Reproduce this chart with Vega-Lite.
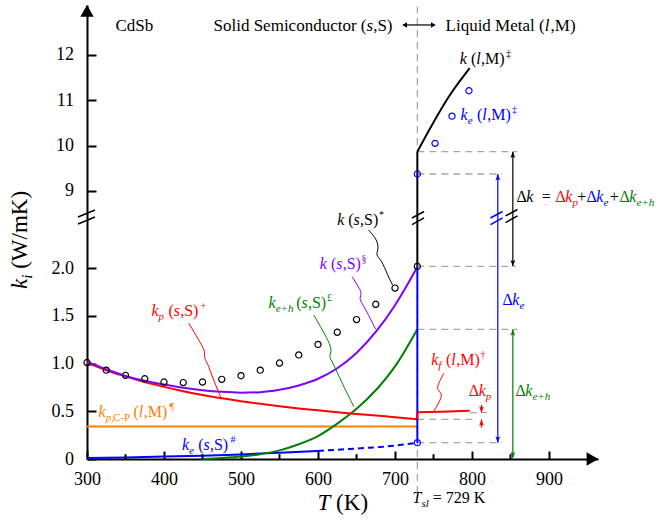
{
"$schema": "https://vega.github.io/schema/vega-lite/v6.json",
"width": 511, "height": 454,
"autosize": {"type": "none"},
"padding": {"left": 87, "top": 5, "right": 62, "bottom": 63},
"background": "white",
"config": {"view": {"stroke": null}, "font": "'Liberation Serif', 'Times New Roman', Times, serif"},
"datasets": {
"vguide": [{"T": 729, "k": -0.356, "k2": 13.06}],
"hguide": [
{"T": 729, "T2": 858.7, "k": 9.867}, {"T": 729, "T2": 839.2, "k": 9.375},
{"T": 729, "T2": 856.5, "k": 2.018}, {"T": 729, "T2": 858.7, "k": 1.358},
{"T": 729, "T2": 806.8, "k": 0.415}, {"T": 797, "T2": 819.7, "k": 0.485},
{"T": 729, "T2": 839.2, "k": 0.171}],
"curves": [
{"s":"kpcp","id":"pcp","T":300,"k":0.34},{"s":"kpcp","id":"pcp","T":729,"k":0.34},
{"s":"ke","id":"ke","T":300,"k":0.01},{"s":"ke","id":"ke","T":350,"k":0.017},{"s":"ke","id":"ke","T":400,"k":0.025},{"s":"ke","id":"ke","T":450,"k":0.035},{"s":"ke","id":"ke","T":500,"k":0.048},{"s":"ke","id":"ke","T":550,"k":0.065},{"s":"ke","id":"ke","T":600,"k":0.085},
{"s":"keh","id":"keh","T":450,"k":0.0},{"s":"keh","id":"keh","T":475,"k":0.01},{"s":"keh","id":"keh","T":500,"k":0.025},{"s":"keh","id":"keh","T":525,"k":0.05},{"s":"keh","id":"keh","T":550,"k":0.09},{"s":"keh","id":"keh","T":575,"k":0.155},{"s":"keh","id":"keh","T":600,"k":0.24},{"s":"keh","id":"keh","T":625,"k":0.37},{"s":"keh","id":"keh","T":650,"k":0.525},{"s":"keh","id":"keh","T":675,"k":0.72},{"s":"keh","id":"keh","T":700,"k":0.97},{"s":"keh","id":"keh","T":729,"k":1.36},
{"s":"kp","id":"kp","T":300,"k":1.01},{"s":"kp","id":"kp","T":325,"k":0.93},{"s":"kp","id":"kp","T":350,"k":0.865},{"s":"kp","id":"kp","T":375,"k":0.805},{"s":"kp","id":"kp","T":400,"k":0.755},{"s":"kp","id":"kp","T":425,"k":0.71},{"s":"kp","id":"kp","T":450,"k":0.67},{"s":"kp","id":"kp","T":475,"k":0.635},{"s":"kp","id":"kp","T":500,"k":0.605},{"s":"kp","id":"kp","T":525,"k":0.578},{"s":"kp","id":"kp","T":550,"k":0.553},{"s":"kp","id":"kp","T":575,"k":0.53},{"s":"kp","id":"kp","T":600,"k":0.51},{"s":"kp","id":"kp","T":625,"k":0.49},{"s":"kp","id":"kp","T":650,"k":0.472},{"s":"kp","id":"kp","T":675,"k":0.455},{"s":"kp","id":"kp","T":700,"k":0.438},{"s":"kp","id":"kp","T":729,"k":0.415},
{"s":"kp","id":"kf","T":729,"k":0.49},{"s":"kp","id":"kf","T":760,"k":0.495},{"s":"kp","id":"kf","T":797,"k":0.505},
{"s":"ksum","id":"sum","T":300,"k":1.02},{"s":"ksum","id":"sum","T":325,"k":0.94},{"s":"ksum","id":"sum","T":350,"k":0.87},{"s":"ksum","id":"sum","T":375,"k":0.82},{"s":"ksum","id":"sum","T":400,"k":0.78},{"s":"ksum","id":"sum","T":425,"k":0.745},{"s":"ksum","id":"sum","T":450,"k":0.72},{"s":"ksum","id":"sum","T":475,"k":0.703},{"s":"ksum","id":"sum","T":500,"k":0.695},{"s":"ksum","id":"sum","T":525,"k":0.70},{"s":"ksum","id":"sum","T":550,"k":0.725},{"s":"ksum","id":"sum","T":575,"k":0.77},{"s":"ksum","id":"sum","T":600,"k":0.84},{"s":"ksum","id":"sum","T":625,"k":0.95},{"s":"ksum","id":"sum","T":650,"k":1.11},{"s":"ksum","id":"sum","T":675,"k":1.33},{"s":"ksum","id":"sum","T":700,"k":1.61},{"s":"ksum","id":"sum","T":729,"k":2.01},
{"s":"k","id":"kl","T":729,"k":9.867},{"s":"k","id":"kl","T":773,"k":11.16},{"s":"k","id":"kl","T":797,"k":11.71}],
"dash": [{"s":"ke","T":600,"k":0.085},{"s":"ke","T":650,"k":0.11},{"s":"ke","T":700,"k":0.14},{"s":"ke","T":729,"k":0.171}],
"verts": [{"s":"ke","T":729,"k":0.171,"k2":2.018},{"s":"k","T":729,"k":2.018,"k2":9.867},{"s":"kp","T":729,"k":0.415,"k2":0.49}],
"mticks": [{"T":350,"k":0,"k2":0.05},{"T":450,"k":0,"k2":0.05},{"T":550,"k":0,"k2":0.05},{"T":650,"k":0,"k2":0.05},{"T":750,"k":0,"k2":0.05},{"T":850,"k":0,"k2":0.05}],
"arrows": [{"s":"k","T":853,"k":2.018,"k2":9.867},{"s":"ke","T":833.5,"k":0.171,"k2":9.375},{"s":"keh","T":853,"k":0.01,"k2":1.358},{"s":"kp","T":812.3,"k":0.485,"k2":0.565},{"s":"kp","T":812.3,"k":0.33,"k2":0.415}],
"harrow": [{"T":711,"T2":751,"k":12.66}],
"circles": [
{"s":"k","T":300,"k":1.01},{"s":"k","T":325,"k":0.93},{"s":"k","T":350,"k":0.876},{"s":"k","T":375,"k":0.84},{"s":"k","T":400,"k":0.806},{"s":"k","T":425,"k":0.80},{"s":"k","T":450,"k":0.806},{"s":"k","T":475,"k":0.834},{"s":"k","T":500,"k":0.872},{"s":"k","T":525,"k":0.93},{"s":"k","T":550,"k":1.005},{"s":"k","T":575,"k":1.09},{"s":"k","T":600,"k":1.20},{"s":"k","T":625,"k":1.327},{"s":"k","T":650,"k":1.46},{"s":"k","T":675,"k":1.62},{"s":"k","T":700,"k":1.79},{"s":"k","T":729,"k":2.018},
{"s":"ke","T":729,"k":0.171},{"s":"ke","T":729,"k":9.375},{"s":"ke","T":752,"k":10.05},{"s":"ke","T":774,"k":10.65},{"s":"ke","T":796,"k":11.21}],
"leaders": [
{"s":"k","id":"Lk","o":1,"T":665.6,"k":2.398},{"s":"k","id":"Lk","o":2,"T":677.3,"k":2.293},{"s":"k","id":"Lk","o":3,"T":678.6,"k":2.188},{"s":"k","id":"Lk","o":4,"T":674.7,"k":2.136},{"s":"k","id":"Lk","o":5,"T":682.5,"k":2.084},{"s":"k","id":"Lk","o":6,"T":690.3,"k":1.927},{"s":"k","id":"Lk","o":7,"T":696.8,"k":1.822},
{"s":"ksum","id":"Ls","o":1,"T":644.4,"k":1.909},{"s":"ksum","id":"Ls","o":2,"T":652.6,"k":1.801},{"s":"ksum","id":"Ls","o":3,"T":657.4,"k":1.735},{"s":"ksum","id":"Ls","o":4,"T":653.2,"k":1.683},{"s":"ksum","id":"Ls","o":5,"T":657.4,"k":1.630},{"s":"ksum","id":"Ls","o":6,"T":665.6,"k":1.508},{"s":"ksum","id":"Ls","o":7,"T":674.7,"k":1.361},
{"s":"keh","id":"Lg","o":1,"T":594.5,"k":1.508},{"s":"keh","id":"Lg","o":2,"T":605.8,"k":1.351},{"s":"keh","id":"Lg","o":3,"T":616.2,"k":1.194},{"s":"keh","id":"Lg","o":4,"T":617.5,"k":1.120},{"s":"keh","id":"Lg","o":5,"T":614,"k":1.071},{"s":"keh","id":"Lg","o":6,"T":618.4,"k":1.026},{"s":"keh","id":"Lg","o":7,"T":629.2,"k":0.827},{"s":"keh","id":"Lg","o":8,"T":646.5,"k":0.548},
{"s":"kp","id":"Lr","o":1,"T":432.2,"k":1.421},{"s":"kp","id":"Lr","o":2,"T":445.2,"k":1.246},{"s":"kp","id":"Lr","o":3,"T":453.9,"k":1.124},{"s":"kp","id":"Lr","o":4,"T":451.7,"k":1.058},{"s":"kp","id":"Lr","o":5,"T":456.1,"k":1.016},{"s":"kp","id":"Lr","o":6,"T":464.3,"k":0.827},{"s":"kp","id":"Lr","o":7,"T":473.4,"k":0.652},
{"s":"kp","id":"Lf","o":1,"T":763.4,"k":0.897},{"s":"kp","id":"Lf","o":2,"T":755.2,"k":0.775},{"s":"kp","id":"Lf","o":3,"T":754.8,"k":0.723},{"s":"kp","id":"Lf","o":4,"T":761.3,"k":0.688},{"s":"kp","id":"Lf","o":5,"T":759.1,"k":0.618},{"s":"kp","id":"Lf","o":6,"T":750.4,"k":0.503}],
"t16u": [
{"t":"(","T":798.6,"k":11.795,"s":"k"},{"t":",M)","T":811.8,"k":11.795,"s":"k"},
{"t":"(","T":806.5,"k":10.566,"s":"ke"},{"t":",M)","T":819.7,"k":10.566,"s":"ke"},
{"t":"Δ","T":857.8,"k":8.764,"s":"k"},{"t":"=","T":890.5,"k":8.764,"s":"k"},{"t":"Δ","T":908.4,"k":8.764,"s":"kp"},{"t":"+","T":936.5,"k":8.764,"s":"k"},{"t":"Δ","T":948.7,"k":8.764,"s":"ke"},{"t":"+","T":979,"k":8.764,"s":"k"},{"t":"Δ","T":991.5,"k":8.764,"s":"keh"},
{"t":"(","T":639.4,"k":2.45,"s":"k"},{"t":",S)","T":654.5,"k":2.45,"s":"k"},
{"t":"(","T":616.8,"k":1.986,"s":"ksum"},{"t":",S)","T":632,"k":1.986,"s":"ksum"},
{"t":"(","T":571.7,"k":1.578,"s":"keh"},{"t":",S)","T":586.9,"k":1.578,"s":"keh"},
{"t":"(","T":405.8,"k":1.497,"s":"kp"},{"t":",S)","T":421,"k":1.497,"s":"kp"},
{"t":"Δ","T":839.6,"k":1.613,"s":"ke"},
{"t":"(","T":766.2,"k":0.984,"s":"kp"},{"t":",M)","T":779.5,"k":0.984,"s":"kp"},
{"t":"Δ","T":795.8,"k":0.66,"s":"kp"},
{"t":"Δ","T":856.5,"k":0.663,"s":"keh"},
{"t":"(","T":360.4,"k":0.443,"s":"kpcp"},{"t":",M)","T":373.6,"k":0.443,"s":"kpcp"},
{"t":"(","T":444.6,"k":0.094,"s":"ke"},{"t":",S)","T":459.7,"k":0.094,"s":"ke"},
{"t":"= 729 K","T":749,"k":-0.461,"s":"k"}],
"t16i": [
{"t":"k","T":784.2,"k":11.795,"s":"k"},{"t":"l","T":805.5,"k":11.795,"s":"k"},
{"t":"k","T":785.1,"k":10.566,"s":"ke"},{"t":"l","T":813.4,"k":10.566,"s":"ke"},
{"t":"k","T":870.5,"k":8.764,"s":"k"},{"t":"k","T":921.2,"k":8.764,"s":"kp"},{"t":"k","T":961.4,"k":8.764,"s":"ke"},{"t":"k","T":1004.2,"k":8.764,"s":"keh"},
{"t":"k","T":624.9,"k":2.45,"s":"k"},{"t":"s","T":646.2,"k":2.45,"s":"k"},
{"t":"k","T":602.3,"k":1.986,"s":"ksum"},{"t":"s","T":623.6,"k":1.986,"s":"ksum"},
{"t":"k","T":535.7,"k":1.578,"s":"keh"},{"t":"s","T":578.6,"k":1.578,"s":"keh"},
{"t":"k","T":383.8,"k":1.497,"s":"kp"},{"t":"s","T":412.7,"k":1.497,"s":"kp"},
{"t":"k","T":852.3,"k":1.613,"s":"ke"},
{"t":"k","T":747,"k":0.984,"s":"kp"},{"t":"l","T":773.1,"k":0.984,"s":"kp"},
{"t":"k","T":808.6,"k":0.66,"s":"kp"},
{"t":"k","T":869.2,"k":0.663,"s":"keh"},
{"t":"k","T":314.9,"k":0.443,"s":"kpcp"},{"t":"l","T":367.3,"k":0.443,"s":"kpcp"},
{"t":"k","T":423.4,"k":0.094,"s":"ke"},{"t":"s","T":451.4,"k":0.094,"s":"ke"},
{"t":"T","T":722.7,"k":-0.461,"s":"k"}],
"tsub": [
{"t":"e","T":794.5,"k":10.566,"s":"ke"},
{"t":"p","T":930.4,"k":8.764,"s":"kp"},{"t":"e","T":970.6,"k":8.764,"s":"ke"},{"t":"e+h","T":1013.5,"k":8.764,"s":"keh"},
{"t":"e+h","T":545,"k":1.578,"s":"keh"},
{"t":"p","T":393,"k":1.497,"s":"kp"},
{"t":"e","T":861.6,"k":1.613,"s":"ke"},
{"t":"f","T":756.2,"k":0.984,"s":"kp"},
{"t":"p","T":817.8,"k":0.66,"s":"kp"},
{"t":"e+h","T":878.4,"k":0.663,"s":"keh"},
{"t":"p,","T":324.2,"k":0.443,"s":"kpcp"},
{"t":"e","T":432.6,"k":0.094,"s":"ke"},
{"t":"sl","T":734.3,"k":-0.461,"s":"k"}],
"tsubu": [{"t":"C-P","T":333.8,"k":0.443,"s":"kpcp"}],
"tsup": [
{"t":"‡","T":844.2,"k":11.795,"s":"k"},{"t":"‡","T":851.9,"k":10.566,"s":"ke"},
{"t":"*","T":679.2,"k":2.45,"s":"k"},{"t":"§","T":656.5,"k":1.986,"s":"ksum"},
{"t":"£","T":611.7,"k":1.578,"s":"keh"},{"t":"+","T":447.4,"k":1.497,"s":"kp"},
{"t":"†","T":811,"k":0.984,"s":"kp"},{"t":"¶","T":407.1,"k":0.443,"s":"kpcp"},
{"t":"#","T":486.4,"k":0.094,"s":"ke"}],
"t17u": [{"t":"CdSb","T":337,"k":12.53,"s":"k"},{"t":"Solid Semiconductor (","T":464.3,"k":12.53,"s":"k"},{"t":",S)","T":671.6,"k":12.53,"s":"k"},{"t":"Liquid Metal (","T":765.6,"k":12.53,"s":"k"},{"t":",M)","T":902,"k":12.53,"s":"k"}],
"t17i": [{"t":"s","T":663,"k":12.53,"s":"k"},{"t":"l","T":894.5,"k":12.53,"s":"k"}],
"tax_i": [{"t":"T","T":599.4,"k":-0.534,"s":"k"}],
"tax_u": [{"t":"(K)","T":623.5,"k":-0.534,"s":"k"}],
"trot_i": [{"t":"k","T":222.7,"k":1.78,"s":"k"}],
"trot_sub": [{"t":"i","T":222.7,"k":1.887,"s":"k"}],
"trot_u": [{"t":"(W/mK)","T":222.7,"k":1.991,"s":"k"}],
"breaks": [
{"s":"k","T":288.3,"k":2.534,"T2":310.4,"k2":8.581},{"s":"k","T":288.3,"k":2.461,"T2":310.4,"k2":2.534},
{"s":"k","T":722.1,"k":2.524,"T2":737.7,"k2":8.548},{"s":"k","T":722.1,"k":2.455,"T2":737.7,"k2":2.524},
{"s":"ke","T":824,"k":2.524,"T2":839.6,"k2":8.548},{"s":"ke","T":824,"k":2.455,"T2":839.6,"k2":2.524},
{"s":"k","T":843.5,"k":2.545,"T2":859.1,"k2":8.592},{"s":"k","T":843.5,"k":2.476,"T2":859.1,"k2":2.545}],
"heads": [
{"s":"k","T":853,"k":9.78,"dir":"up"},{"s":"k","T":853,"k":2.06,"dir":"down"},
{"s":"ke","T":833.5,"k":9.287,"dir":"up"},{"s":"ke","T":833.5,"k":0.213,"dir":"down"},
{"s":"keh","T":853,"k":1.316,"dir":"up"},{"s":"keh","T":853,"k":0.05,"dir":"down"},
{"s":"kp","T":812.3,"k":0.527,"dir":"down"},{"s":"kp","T":812.3,"k":0.373,"dir":"up"}],
"hl": [{"T":712.5,"k":12.66}],
"hr": [{"T":749.8,"k":12.66}],
"ay": [{"T":300,"k":12.97}],
"ax": [{"T":956.4,"k":0}]
},
"encoding": {
"x": {"field": "T", "type": "quantitative",
 "scale": {"type": "linear", "domain": [300, 963.6], "nice": false, "zero": false},
 "axis": {"values": [300,400,500,600,700,800,900], "format": "d", "title": null, "grid": false,
  "tickSize": -8, "tickWidth": 2, "tickColor": "black", "domainWidth": 2, "domainColor": "black",
  "labelFont": "'Liberation Serif', 'Times New Roman', Times, serif", "labelFontSize": 18, "labelColor": "black", "labelPadding": 19,
  "labelFlush": false, "labelOverlap": false}},
"y": {"field": "k", "type": "quantitative",
 "scale": {"type": "linear", "domain": [0, 2.576, 8.515, 13.1], "range": [454, 208, 208, 0], "nice": false, "zero": false},
 "axis": {"values": [0,0.5,1,1.5,2,9,10,11,12], "title": null, "grid": false,
  "labelExpr": "datum.value == 0 ? '0' : (datum.value < 5 ? format(datum.value, '.1f') : format(datum.value, 'd'))",
  "tickSize": -9, "tickWidth": 2, "tickColor": "black", "domainWidth": 2, "domainColor": "black",
  "labelFont": "'Liberation Serif', 'Times New Roman', Times, serif", "labelFontSize": 18, "labelColor": "black", "labelPadding": 22.5,
  "labelFlush": false, "labelOverlap": false}}
},
"layer": [
{"data": {"name": "vguide"}, "mark": {"type": "rule", "color": "#a8a8a8", "strokeWidth": 1.3, "strokeDash": [7,5]}, "encoding": {"y2": {"field": "k2"}}},
{"data": {"name": "hguide"}, "mark": {"type": "rule", "color": "#a8a8a8", "strokeWidth": 1.3, "strokeDash": [7,5]}, "encoding": {"x2": {"field": "T2"}}},
{"data": {"name": "curves"}, "mark": {"type": "line", "strokeWidth": 2, "interpolate": "monotone"},
 "encoding": {"detail": {"field": "id"}, "color": {"field": "s", "type": "nominal", "scale": {"domain": ["k","ksum","kp","keh","ke","kpcp"], "range": ["#000000","#8000ff","#ff0000","#008000","#0000ff","#ff8000"]}, "legend": null}}},
{"data": {"name": "dash"}, "mark": {"type": "line", "strokeWidth": 2, "strokeDash": [6,4], "interpolate": "monotone"},
 "encoding": {"color": {"field": "s", "type": "nominal", "legend": null}}},
{"data": {"name": "verts"}, "mark": {"type": "rule", "strokeWidth": 2},
 "encoding": {"y2": {"field": "k2"}, "color": {"field": "s", "type": "nominal", "legend": null}}},
{"data": {"name": "mticks"}, "mark": {"type": "rule", "strokeWidth": 2, "color": "black"}, "encoding": {"y2": {"field": "k2"}}},
{"data": {"name": "arrows"}, "mark": {"type": "rule", "strokeWidth": 1.2},
 "encoding": {"y2": {"field": "k2"}, "color": {"field": "s", "type": "nominal", "legend": null}}},
{"data": {"name": "harrow"}, "mark": {"type": "rule", "strokeWidth": 1.2, "color": "black"}, "encoding": {"x2": {"field": "T2"}}},
{"data": {"name": "circles"}, "mark": {"type": "point", "filled": false, "size": 38, "strokeWidth": 1.2, "opacity": 1},
 "encoding": {"color": {"field": "s", "type": "nominal", "legend": null}}},
{"data": {"name": "leaders"}, "mark": {"type": "line", "strokeWidth": 1, "interpolate": "basis"},
 "encoding": {"detail": {"field": "id"}, "order": {"field": "o"}, "color": {"field": "s", "type": "nominal", "legend": null}}},
{"data": {"name": "t16u"}, "mark": {"type": "text", "font": "'Liberation Serif', 'Times New Roman', Times, serif", "fontSize": 16, "align": "left", "baseline": "alphabetic"},
 "encoding": {"text": {"field": "t"}, "color": {"field": "s", "type": "nominal", "legend": null}}},
{"data": {"name": "t16i"}, "mark": {"type": "text", "font": "'Liberation Serif', 'Times New Roman', Times, serif", "fontSize": 16, "fontStyle": "italic", "align": "left", "baseline": "alphabetic"},
 "encoding": {"text": {"field": "t"}, "color": {"field": "s", "type": "nominal", "legend": null}}},
{"data": {"name": "tsub"}, "mark": {"type": "text", "font": "'Liberation Serif', 'Times New Roman', Times, serif", "fontSize": 11, "fontStyle": "italic", "align": "left", "baseline": "alphabetic", "dy": 4},
 "encoding": {"text": {"field": "t"}, "color": {"field": "s", "type": "nominal", "legend": null}}},
{"data": {"name": "tsubu"}, "mark": {"type": "text", "font": "'Liberation Serif', 'Times New Roman', Times, serif", "fontSize": 11, "align": "left", "baseline": "alphabetic", "dy": 4},
 "encoding": {"text": {"field": "t"}, "color": {"field": "s", "type": "nominal", "legend": null}}},
{"data": {"name": "tsup"}, "mark": {"type": "text", "font": "'Liberation Serif', 'Times New Roman', Times, serif", "fontSize": 10, "align": "left", "baseline": "alphabetic", "dy": -7},
 "encoding": {"text": {"field": "t"}, "color": {"field": "s", "type": "nominal", "legend": null}}},
{"data": {"name": "t17u"}, "mark": {"type": "text", "font": "'Liberation Serif', 'Times New Roman', Times, serif", "fontSize": 17, "align": "left", "baseline": "alphabetic"},
 "encoding": {"text": {"field": "t"}, "color": {"field": "s", "type": "nominal", "legend": null}}},
{"data": {"name": "t17i"}, "mark": {"type": "text", "font": "'Liberation Serif', 'Times New Roman', Times, serif", "fontSize": 17, "fontStyle": "italic", "align": "left", "baseline": "alphabetic"},
 "encoding": {"text": {"field": "t"}, "color": {"field": "s", "type": "nominal", "legend": null}}},
{"data": {"name": "tax_i"}, "mark": {"type": "text", "font": "'Liberation Serif', 'Times New Roman', Times, serif", "fontSize": 23, "fontStyle": "italic", "align": "left", "baseline": "alphabetic"},
 "encoding": {"text": {"field": "t"}, "color": {"field": "s", "type": "nominal", "legend": null}}},
{"data": {"name": "tax_u"}, "mark": {"type": "text", "font": "'Liberation Serif', 'Times New Roman', Times, serif", "fontSize": 23, "align": "left", "baseline": "alphabetic"},
 "encoding": {"text": {"field": "t"}, "color": {"field": "s", "type": "nominal", "legend": null}}},
{"data": {"name": "trot_i"}, "mark": {"type": "text", "font": "'Liberation Serif', 'Times New Roman', Times, serif", "fontSize": 23, "fontStyle": "italic", "align": "left", "baseline": "alphabetic", "angle": 270},
 "encoding": {"text": {"field": "t"}, "color": {"field": "s", "type": "nominal", "legend": null}}},
{"data": {"name": "trot_sub"}, "mark": {"type": "text", "font": "'Liberation Serif', 'Times New Roman', Times, serif", "fontSize": 15, "fontStyle": "italic", "align": "left", "baseline": "alphabetic", "angle": 270, "dy": 5},
 "encoding": {"text": {"field": "t"}, "color": {"field": "s", "type": "nominal", "legend": null}}},
{"data": {"name": "trot_u"}, "mark": {"type": "text", "font": "'Liberation Serif', 'Times New Roman', Times, serif", "fontSize": 23, "align": "left", "baseline": "alphabetic", "angle": 270},
 "encoding": {"text": {"field": "t"}, "color": {"field": "s", "type": "nominal", "legend": null}}},
{"data": {"name": "breaks"}, "mark": {"type": "rule", "strokeWidth": 1.5},
 "encoding": {"x2": {"field": "T2"}, "y2": {"field": "k2"}, "color": {"field": "s", "type": "nominal", "legend": null}}},
{"data": {"name": "heads"}, "mark": {"type": "point", "filled": true, "opacity": 1, "strokeWidth": 0, "size": 64},
 "encoding": {"color": {"field": "s", "type": "nominal", "legend": null},
  "shape": {"field": "dir", "type": "nominal", "legend": null, "scale": {"domain": ["up","down"], "range": ["M0,-1L0.6,0.6L0,0.25L-0.6,0.6Z","M0,1L0.6,-0.6L0,-0.25L-0.6,-0.6Z"]}}}},
{"data": {"name": "hl"}, "mark": {"type": "point", "filled": true, "opacity": 1, "size": 30, "color": "black", "shape": "triangle-left"}, "encoding": {}},
{"data": {"name": "hr"}, "mark": {"type": "point", "filled": true, "opacity": 1, "size": 30, "color": "black", "shape": "triangle-right"}, "encoding": {}},
{"data": {"name": "ay"}, "mark": {"type": "point", "filled": true, "opacity": 1, "size": 180, "color": "black", "shape": "triangle-up"}, "encoding": {}},
{"data": {"name": "ax"}, "mark": {"type": "point", "filled": true, "opacity": 1, "size": 180, "color": "black", "shape": "triangle-right"}, "encoding": {}}
]
}
